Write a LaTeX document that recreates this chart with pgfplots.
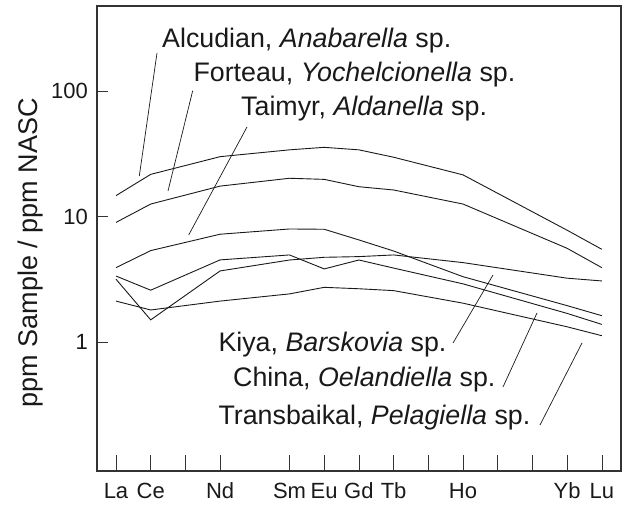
\documentclass[border=0pt]{standalone}
\usepackage{fontspec}
\setmainfont{Liberation Sans}
\usepackage{pgfplots}
\pgfplotsset{compat=1.18}
\tikzset{ree/.style={draw=black!90, line width=0.9pt, mark=none}}
\begin{document}
\begin{tikzpicture}
\begin{axis}[
  at={(97pt,34pt)}, anchor=south west,
  scale only axis, width=524pt, height=465pt,
  ymode=log,
  xmin=0.4525, xmax=15.553, ymin=0.0948, ymax=474,
  axis line style={draw=black!80, line width=1.1pt},
  tick align=inside,
  xtick pos=bottom, ytick pos=left,
  xtick={1,2,3,4,6,7,8,9,10,11,12,13,14,15},
  xticklabels={La,Ce,,Nd,Sm,Eu,Gd,Tb,,Ho,,,Yb,Lu},
  ytick={1,10,100},
  yticklabels={1,10,100},
  yminorticks=false,
  xtick style={black!80, line width=0.6pt, /pgfplots/major tick length=16pt},
  ytick style={black!80, line width=0.8pt, /pgfplots/major tick length=11pt},
  /pgf/number format/assume math mode=true,
  ticklabel style={font=\fontsize{22}{26}\selectfont, text=black!90, inner sep=0pt},
  xticklabel style={anchor=base, yshift=-28pt},
  yticklabel style={anchor=east, xshift=-9pt},
  ylabel={ppm Sample / ppm NASC},
  ylabel style={font=\fontsize{27}{31}\selectfont, text=black!90, at={(axis description cs:-0.126,0.469)}, anchor=center, rotate=0},
]
\addplot[ree] coordinates {(1,14.7) (2,21.7) (4,30) (6,34) (7,35.6) (8,34) (9,29.7) (11,21.5) (14,7.8) (15,5.5)};
\addplot[ree] coordinates {(1,9.0) (2,12.6) (4,17.5) (6,20.2) (7,19.8) (8,17.3) (9,16.3) (11,12.6) (14,5.6) (15,3.93)};
\addplot[ree] coordinates {(1,3.93) (2,5.37) (4,7.25) (6,7.98) (7,7.94) (8,6.53) (9,5.33) (11,3.33) (14,1.96) (15,1.63)};
\addplot[ree] coordinates {(1,3.37) (2,2.6) (4,4.53) (6,4.96) (7,3.84) (8,4.52) (9,3.9) (11,2.92) (14,1.70) (15,1.39)};
\addplot[ree] coordinates {(1,3.18) (2,1.51) (4,3.7) (6,4.52) (7,4.75) (8,4.81) (9,4.96) (11,4.31) (14,3.24) (15,3.08)};
\addplot[ree] coordinates {(1,2.13) (2,1.81) (4,2.13) (6,2.43) (7,2.74) (8,2.67) (9,2.58) (11,2.05) (14,1.33) (15,1.13)};
\end{axis}
\begin{scope}[black!90, line width=0.7pt]
\draw (157pt,452pt) -- (139.3pt,329pt);
\draw (192.7pt,414.3pt) -- (168pt,314pt);
\draw (247pt,378pt) -- (188.7pt,270pt);
\draw (453pt,162pt) -- (493pt,230pt);
\draw (503pt,118pt) -- (537pt,192pt);
\draw (540pt,80pt) -- (582pt,162pt);
\end{scope}
\begin{scope}[every node/.style={anchor=base west, inner sep=0pt, font=\fontsize{26.8}{31}\selectfont, text=black!90}]
\node at (162pt,457.5pt) {Alcudian, \textit{Anabarella} sp.};
\node at (193.3pt,423.5pt) {Forteau, \textit{Yochelcionella} sp.};
\node at (241pt,389.5pt) {Taimyr, \textit{Aldanella} sp.};
\node at (218.3pt,153.3pt) {Kiya, \textit{Barskovia} sp.};
\node at (233pt,118.3pt) {China, \textit{Oelandiella} sp.};
\node at (218.3pt,80pt) {Transbaikal, \textit{Pelagiella} sp.};
\end{scope}
\pgfresetboundingbox
\useasboundingbox (0pt,0pt) rectangle (625pt,505pt);
\end{tikzpicture}
\end{document}
